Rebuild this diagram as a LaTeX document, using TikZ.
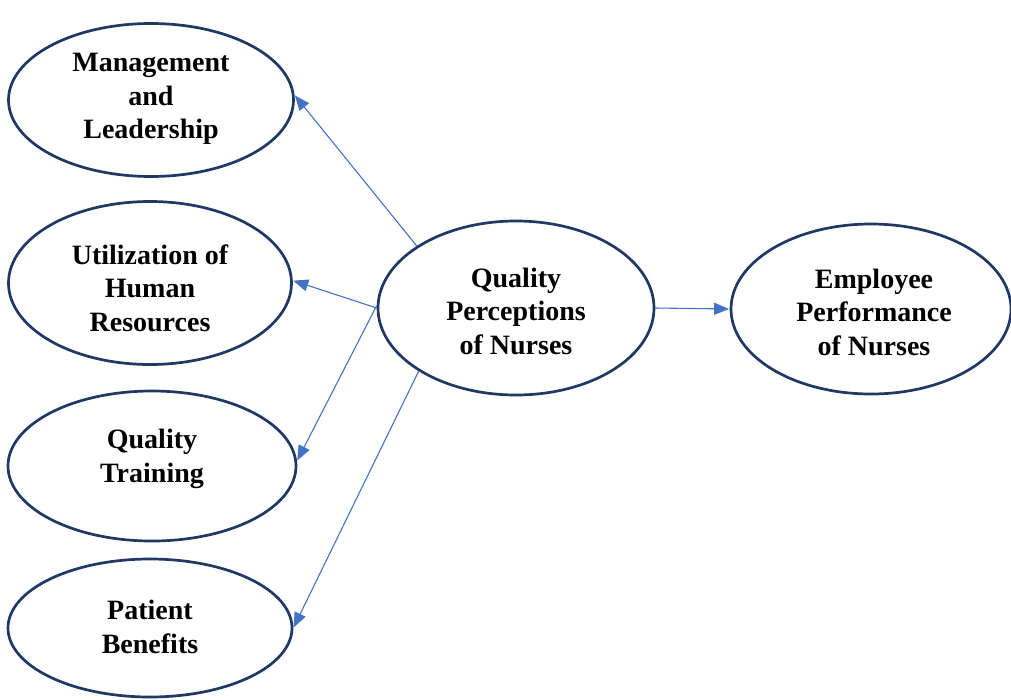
\documentclass[tikz,border=0pt]{standalone}
\usepackage{fontspec}
\setmainfont{Liberation Serif}
\usetikzlibrary{shapes.geometric,arrows.meta}
\definecolor{rim}{HTML}{1F3864}
\definecolor{link}{HTML}{4472C4}
\begin{document}
\begin{tikzpicture}[x=1pt,y=-1pt,
  oval/.style={ellipse,draw=rim,line width=2.7pt,inner sep=0pt,fill=white},
  caption/.style={align=center,font=\fontsize{28}{33.5}\selectfont\bfseries,text=black},
  flow/.style={draw=link,line width=1.1pt,-{Triangle[length=15pt,width=12pt]},shorten >=0.5pt}]
\useasboundingbox (0,0) rectangle (1011,699);
% factor ellipses
\node[oval,minimum width=285pt,minimum height=153pt] (mgmt) at (151,100) {};
\node[oval,minimum width=283pt,minimum height=163pt] (util) at (150,283) {};
\node[oval,minimum width=288pt,minimum height=150pt] (train) at (152,466) {};
\node[oval,minimum width=284pt,minimum height=138pt] (pat) at (150,628) {};
\node[oval,minimum width=276pt,minimum height=174pt] (qual) at (516,308) {};
\node[oval,minimum width=280pt,minimum height=170pt] (perf) at (871,309) {};
% captions
\node[caption] (mgmtT) at (151,99) {Management\\and\\Leadership};
\node[caption] (utilT) at (150,288) {Utilization of\\Human\\Resources};
\node[caption] (trainT) at (152,459) {Quality\\Training};
\node[caption] (patT) at (150,627) {Patient\\Benefits};
\node[caption] (qualT) at (516,311) {Quality\\Perceptions\\of Nurses};
\node[caption] (perfT) at (874,312) {Employee\\Performance\\of Nurses};
% connectors
\draw[flow] (qual.148) -- (mgmt.2);
\draw[flow] (qual.west) -- (util.1);
\draw[flow] (qual.179) -- (train.2);
\draw[flow] (qual.213) -- (pat.0);
\draw[flow] (qual.east) -- (perf.west);
\end{tikzpicture}
\end{document}
